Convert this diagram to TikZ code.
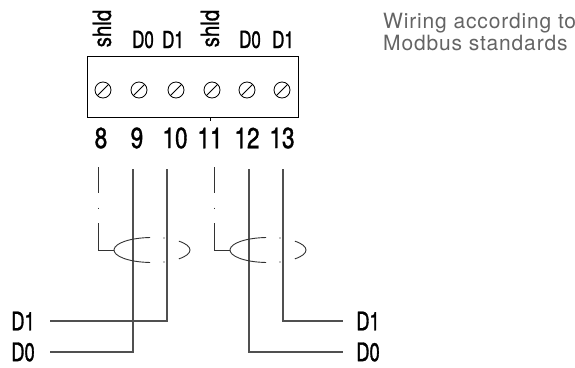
\documentclass[tikz,border=0pt]{standalone}
\usepackage{fontspec}
\setmainfont{TeX Gyre Heros}
\newfontfamily\condfont[FakeStretch=0.72, FakeBold=1.2]{TeX Gyre Heros}
\newfontfamily\numfont[FakeStretch=0.78, FakeBold=1.2]{TeX Gyre Heros}
\newfontfamily\shldfont[FakeStretch=0.82, FakeBold=1]{TeX Gyre Heros}
\newfontfamily\notefont[LetterSpace=4]{TeX Gyre Heros}
\usepackage{tikz}
\usetikzlibrary{positioning}
\definecolor{notegray}{RGB}{100,100,100}
\definecolor{wiregray}{RGB}{80,80,80}
\tikzset{screw/.style={circle, draw, thick, minimum size=16pt, inner sep=0pt,
  path picture={\draw[thick] (path picture bounding box.south west) -- (path picture bounding box.north east);}}}
\tikzset{termnum/.style={inner sep=0pt, font=\numfont\fontsize{29}{32}\selectfont}}
\tikzset{sig/.style={inner sep=0pt, font=\condfont\fontsize{23.5}{26}\selectfont}}
\tikzset{endsig/.style={inner sep=0pt, font=\condfont\fontsize{25.5}{28}\selectfont}}
\tikzset{shldlabel/.style={inner sep=0pt, rotate=90, font=\shldfont\fontsize{25}{28}\selectfont}}
\tikzset{wire/.style={draw=wiregray, line width=1.1pt}}
\tikzset{shieldwire/.style={draw=black!80, line width=0.9pt}}
\tikzset{note/.style={inner sep=0pt, anchor=base west, text=notegray, font=\notefont\fontsize{21}{22}\selectfont}}

\begin{document}
\begin{tikzpicture}[x=1pt, y=-1pt]
      \useasboundingbox (0,0) rectangle (575,367);

      % terminal block
      \draw [thick] (87.5, 56.5) rectangle (298, 117.5);
      \draw [thick] (210, 117.5) -- (210, 120.5);

      \node [screw] (s8) at (103, 90) {};
      \node [screw] (s9) at (139, 90) {};
      \node [screw] (s10) at (176, 90) {};
      \node [screw] (s11) at (212, 90) {};
      \node [screw] (s12) at (247, 90) {};
      \node [screw] (s13) at (282, 90) {};

      \node [shldlabel] (shA) at (102, 28.5) {shld};
      \node [sig] (topD0A) at (143, 39.5) {D0};
      \node [sig] (topD1A) at (173, 39.5) {D1};
      \node [shldlabel] (shB) at (210, 28.5) {shld};
      \node [sig] (topD0B) at (250, 39.5) {D0};
      \node [sig] (topD1B) at (283, 39.5) {D1};

      \node [termnum] (n8) at (101, 138) {8};
      \node [termnum] (n9) at (137, 138) {9};
      \node [termnum] (n10) at (175, 138) {10};
      \node [termnum] (n11) at (210, 138) {11};
      \node [termnum] (n12) at (247, 138) {12};
      \node [termnum] (n13) at (282, 138) {13};

      % cable ends
      \node [endsig] (D1L) at (23, 321) {D1};
      \node [endsig] (D0L) at (23, 352) {D0};
      \node [endsig] (D1R) at (368, 321) {D1};
      \node [endsig] (D0R) at (368, 352) {D0};

      \coordinate (tA) at (98, 167);
      \coordinate (tB) at (214, 167);
      \coordinate (cA) at (152, 250);
      \coordinate (cB) at (268, 250);
      \coordinate (t9) at (133, 169);
      \coordinate (t10) at (167, 169);
      \coordinate (t12) at (249, 169);
      \coordinate (t13) at (283, 169);
      \coordinate (eD1L) at (50, 321);
      \coordinate (eD0L) at (50, 352);
      \coordinate (eD1R) at (343, 321);
      \coordinate (eD0R) at (343, 352);

      % shields
      \draw [shieldwire, dash pattern=on 26pt off 14.5pt on 1pt off 14.5pt on 60pt]
        (tA) |- ([xshift=-38pt]cA);
      \draw [shieldwire, dash pattern=on 26pt off 14.5pt on 1pt off 14.5pt on 60pt]
        (tB) |- ([xshift=-38pt]cB);

      % pairs
      \draw [wire] (t9) |- (eD0L);
      \draw [wire] (t10) |- (eD1L);
      \draw [wire] (t12) |- (eD0R);
      \draw [wire] (t13) |- (eD1R);

      % cable screen
      \draw [shieldwire] (cA) ++(93:38 and 12.5) arc [start angle=93, end angle=267, x radius=38, y radius=12.5];
      \draw [shieldwire] (cA) ++(-45:38 and 12.5) arc [start angle=-45, end angle=45, x radius=38, y radius=12.5];
      \fill (164, 238) circle (0.6pt);
      \fill (164, 262) circle (0.6pt);
      \draw [shieldwire] (cB) ++(93:38 and 12.5) arc [start angle=93, end angle=267, x radius=38, y radius=12.5];
      \draw [shieldwire] (cB) ++(-45:38 and 12.5) arc [start angle=-45, end angle=45, x radius=38, y radius=12.5];
      \fill (280, 238) circle (0.6pt);
      \fill (280, 262) circle (0.6pt);

      \node [note] (note1) at (383, 28) {Wiring according to};
      \node [note] (note2) at (383, 50) {Modbus standards};

    \end{tikzpicture}
\end{document}
